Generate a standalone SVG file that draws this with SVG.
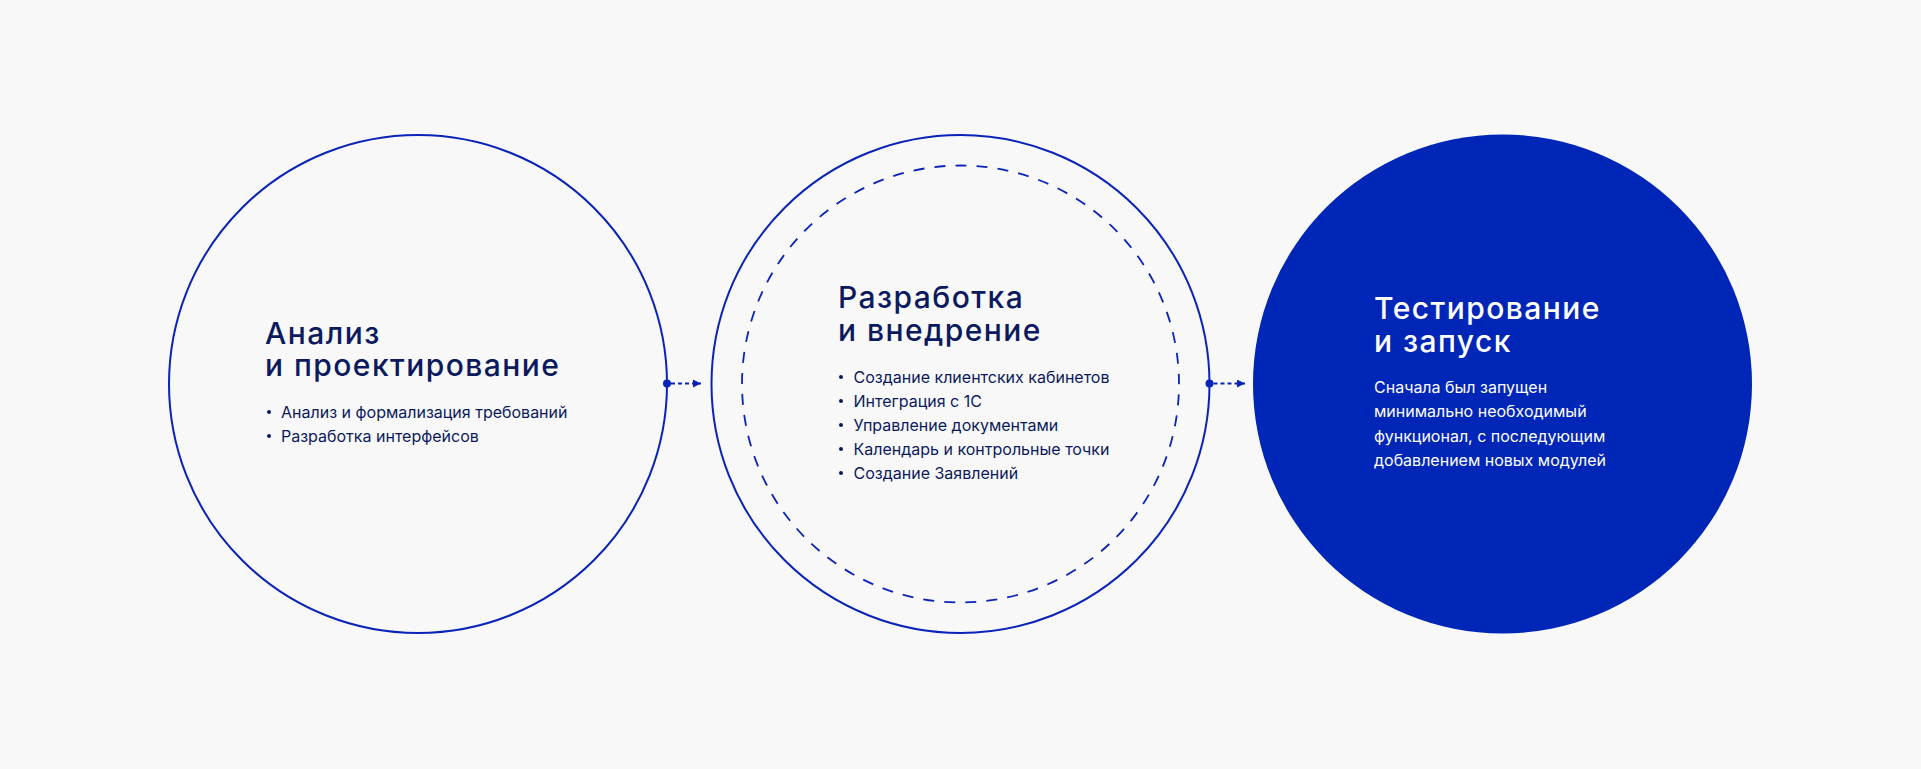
<svg xmlns="http://www.w3.org/2000/svg" width="1921" height="769" viewBox="0 0 1921 769">
<defs>
<style>
.ring{fill:none;stroke:#0A23B8;stroke-width:2}
.dash{fill:none;stroke:#0A23B8;stroke-width:1.8;stroke-dasharray:11 10.12;stroke-dashoffset:10.68}
.title{font-family:Inter,"Noto Sans",sans-serif;font-size:30px;font-weight:500;letter-spacing:1.45px;fill:#0B1A5E}
.body{font-family:Inter,"Noto Sans",sans-serif;font-size:16px;font-weight:400;fill:#0B1A5E}
.w{fill:#FFFFFF}
.conn{stroke:#0A23B8;stroke-width:2;stroke-dasharray:4 3;fill:none}
</style>
<marker id="arr" viewBox="0 0 10 10" refX="10" refY="5" markerWidth="8" markerHeight="8" markerUnits="userSpaceOnUse" orient="auto">
<path d="M0,0 L10,5 L0,10 Z" fill="#0A23B8"/>
</marker>
</defs>
<rect width="1921" height="769" fill="#F8F8F8"/>
<g id="node-analysis">
<circle class="ring" cx="418" cy="384" r="249"/>
<text class="title" x="265" y="343.5">Анализ</text>
<text class="title" x="265" y="376">и проектирование</text>
<circle cx="269" cy="412" r="2" fill="#0B1A5E"/>
<text class="body" x="281" y="418">Анализ и формализация требований</text>
<circle cx="269" cy="436" r="2" fill="#0B1A5E"/>
<text class="body" x="281" y="442">Разработка интерфейсов</text>
</g>
<g id="node-development">
<circle class="ring" cx="960.5" cy="384" r="249"/>
<circle class="dash" cx="960.5" cy="384" r="218.5"/>
<text class="title" x="838" y="308">Разработка</text>
<text class="title" x="838" y="341">и внедрение</text>
<circle cx="841" cy="377" r="2" fill="#0B1A5E"/>
<text class="body" x="853.5" y="383">Создание клиентских кабинетов</text>
<circle cx="841" cy="401" r="2" fill="#0B1A5E"/>
<text class="body" x="853.5" y="407">Интеграция с 1С</text>
<circle cx="841" cy="425" r="2" fill="#0B1A5E"/>
<text class="body" x="853.5" y="431">Управление документами</text>
<circle cx="841" cy="449" r="2" fill="#0B1A5E"/>
<text class="body" x="853.5" y="455">Календарь и контрольные точки</text>
<circle cx="841" cy="473" r="2" fill="#0B1A5E"/>
<text class="body" x="853.5" y="479">Создание Заявлений</text>
</g>
<g id="node-launch">
<circle cx="1502.5" cy="384" r="249.5" fill="#0026B8"/>
<text class="title w" x="1374" y="319">Тестирование</text>
<text class="title w" x="1374" y="352">и запуск</text>
<text class="body w" x="1374" y="393">Сначала был запущен</text>
<text class="body w" x="1374" y="417">минимально необходимый</text>
<text class="body w" x="1374" y="442">функционал, с последующим</text>
<text class="body w" x="1374" y="466">добавлением новых модулей</text>
</g>
<g id="connectors">
<circle cx="667" cy="383.5" r="4" fill="#0A23B8"/>
<line class="conn" x1="671" y1="383.5" x2="701" y2="383.5" marker-end="url(#arr)"/>
<circle cx="1209.5" cy="383.5" r="4" fill="#0A23B8"/>
<line class="conn" x1="1213.5" y1="383.5" x2="1245" y2="383.5" marker-end="url(#arr)"/>
</g>
</svg>
